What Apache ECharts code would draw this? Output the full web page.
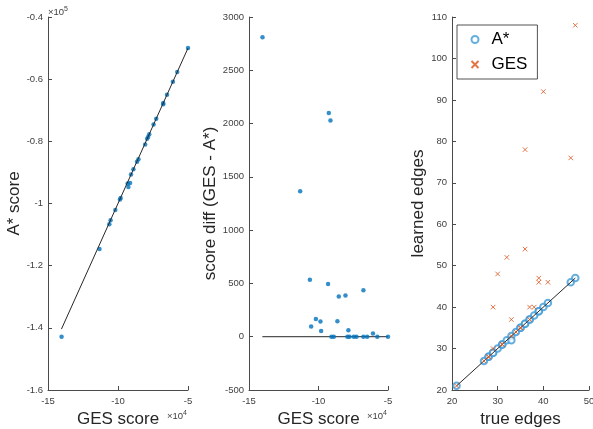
<!DOCTYPE html>
<html>
<head>
<meta charset="utf-8">
<script src="https://cdn.jsdelivr.net/npm/echarts@6/dist/echarts.min.js"></script>
<style>html,body{margin:0;padding:0;background:#fff}#c{width:593px;height:429px}</style>
</head>
<body>
<div id="c"></div>
<script>
// Panel 1 & 2: GES score (x 1e4), A* score (x 1e5), score diff
const gesScore = [-14.03, -11.32, -10.62, -10.53, -10.19, -9.86, -9.81, -9.31, -9.26, -9.14, -9.07, -8.90, -8.64, -8.54, -8.06, -7.92, -7.85, -7.77, -7.46, -7.27, -6.77, -6.77, -6.50, -6.08, -5.77, -5.00];
const astarScore = [-1.429, -1.146, -1.067, -1.054, -1.021, -0.987, -0.982, -0.936, -0.947, -0.934, -0.907, -0.890, -0.866, -0.858, -0.810, -0.792, -0.786, -0.777, -0.746, -0.727, -0.681, -0.677, -0.650, -0.608, -0.577, -0.500];
const scoreDiff = [2810, 1366, 535, 97, 167, 142, 53, 494, 2100, 2028, 0, 0, 145, 377, 387, 0, 60, 0, 0, 0, 437, 0, 0, 31, 0, 0];
// Reference lines
const line1 = [[-14.04, -1.404], [-5.0, -0.5]];
const line2 = [[-14.04, 0], [-5.0, 0]];
const line3 = [[21, 21], [47, 47]];
// Panel 3: edges
const trueEdges  = [21, 27, 28, 28, 29, 29, 30, 31, 31, 32, 33, 33, 34, 35, 35, 36, 36, 37, 37, 38, 39, 39, 40, 41, 46, 47];
const astarEdges = [21, 27, 28, 28, 29, 29, 30, 31, 31, 32, 33, 32, 34, 35, 35, 36, 36, 37, 37, 38, 39, 39, 40, 41, 46, 47];
const gesEdges   = [21, 27, 28, 28, 40, 30, 48, 31, 31, 52, 37, 33, 34, 35, 35, 54, 78, 40, 37, 40, 47, 46, 92, 46, 76, 108];
// Tick settings [min, max, interval]
const ticks1x = [-15, -5, 5], ticks1y = [-1.6, -0.4, 0.2];
const ticks2x = [-15, -5, 5], ticks2y = [-500, 3000, 500];
const ticks3x = [20, 50, 10], ticks3y = [20, 110, 10];

const zip = (a, b) => a.map((v, i) => [v, b[i]]);
const AX = '#4a4a4a';
const FONT = 'Liberation Sans, Arial, Helvetica, sans-serif';

function xAxis(idx, t, name) {
  return {
    gridIndex: idx, type: 'value', min: t[0], max: t[1], interval: t[2],
    name: name, nameLocation: 'middle', nameGap: 21,
    nameTextStyle: {fontSize: 17, color: '#262626', fontFamily: FONT},
    axisLine: {show: true, onZero: false, lineStyle: {color: AX, width: 1}},
    axisTick: {show: true, inside: true, length: 4, lineStyle: {color: AX}},
    axisLabel: {fontSize: 9.5, color: '#404040', margin: 6, fontFamily: FONT, showMaxLabel: true, showMinLabel: true, hideOverlap: false,
      formatter: v => String(+(+v).toFixed(1))},
    splitLine: {show: false}
  };
}
function yAxis(idx, t, name, gap) {
  return {
    gridIndex: idx, type: 'value', min: t[0], max: t[1], interval: t[2],
    name: name, nameLocation: 'middle', nameGap: gap,
    nameTextStyle: {fontSize: 17, color: '#262626', fontFamily: FONT},
    axisLine: {show: true, onZero: false, lineStyle: {color: AX, width: 1}},
    axisTick: {show: true, inside: true, length: 4, lineStyle: {color: AX}},
    axisLabel: {fontSize: 9.5, color: '#404040', margin: 5, fontFamily: FONT, showMaxLabel: true, showMinLabel: true, hideOverlap: false,
      formatter: v => String(+(+v).toFixed(1))},
    splitLine: {show: false}
  };
}
function lineSeries(idx, data) {
  return {type: 'line', xAxisIndex: idx, yAxisIndex: idx, data: data, symbol: 'none',
    lineStyle: {color: '#262626', width: 1}, silent: true, z: 3, animation: false};
}
const expText = (left, top, e) => ({type: 'text', left: left, top: top,
  style: {text: '×10{s|' + e + '}', fontSize: 9.5, fill: '#404040', fontFamily: FONT,
    rich: {s: {fontSize: 7, verticalAlign: 'top', padding: [0, 0, 5, 0]}}}});
const gridBox = (left, width) => ({left: left, top: 17, width: width, height: 373,
  containLabel: false, outerBoundsMode: 'none'});

const chart = echarts.init(document.getElementById('c'), null, {renderer: 'canvas'});
chart.setOption({
  animation: false,
  textStyle: {fontFamily: FONT},
  grid: [gridBox(48, 140), gridBox(249, 139), gridBox(452, 137)],
  xAxis: [xAxis(0, ticks1x, 'GES score'), xAxis(1, ticks2x, 'GES score'), xAxis(2, ticks3x, 'true edges')],
  yAxis: [yAxis(0, ticks1y, 'A* score', 22), yAxis(1, ticks2y, 'score diff (GES - A*)', 24), yAxis(2, ticks3y, 'learned edges', 24)],
  legend: {
    data: ['A*', 'GES'], orient: 'vertical', left: 457, top: 25,
    backgroundColor: '#fff', borderColor: '#262626', borderWidth: 0.8,
    padding: [6, 10, 6, 12], itemGap: 8, itemWidth: 7, itemHeight: 7,
    textStyle: {fontSize: 17, color: '#000', fontFamily: FONT, padding: [0, 0, 0, 8]}
  },
  series: [
    {type: 'scatter', xAxisIndex: 0, yAxisIndex: 0, data: zip(gesScore, astarScore), symbol: 'circle', symbolSize: 4.5,
      itemStyle: {color: '#0072BD'}, z: 2},
    lineSeries(0, line1),
    lineSeries(1, line2),
    {type: 'scatter', xAxisIndex: 1, yAxisIndex: 1, data: zip(gesScore, scoreDiff), symbol: 'circle', symbolSize: 4.5,
      itemStyle: {color: '#0072BD'}, z: 4},
    {name: 'A*', type: 'scatter', xAxisIndex: 2, yAxisIndex: 2, data: zip(trueEdges, astarEdges), symbol: 'emptyCircle', symbolSize: 6.5,
      itemStyle: {color: '#3d9ad8', borderWidth: 1}, z: 2},
    {name: 'GES', type: 'scatter', xAxisIndex: 2, yAxisIndex: 2, data: zip(trueEdges, gesEdges), symbol: 'path://M0,0L10,10M10,0L0,10', symbolSize: 4.5,
      itemStyle: {color: 'none', borderColor: '#D95319', borderWidth: 1}, z: 3},
    lineSeries(2, line3)
  ],
  graphic: [expText(48, 6, 5), expText(167, 410, 4), expText(367, 410, 4)]
});
</script>
</body>
</html>
